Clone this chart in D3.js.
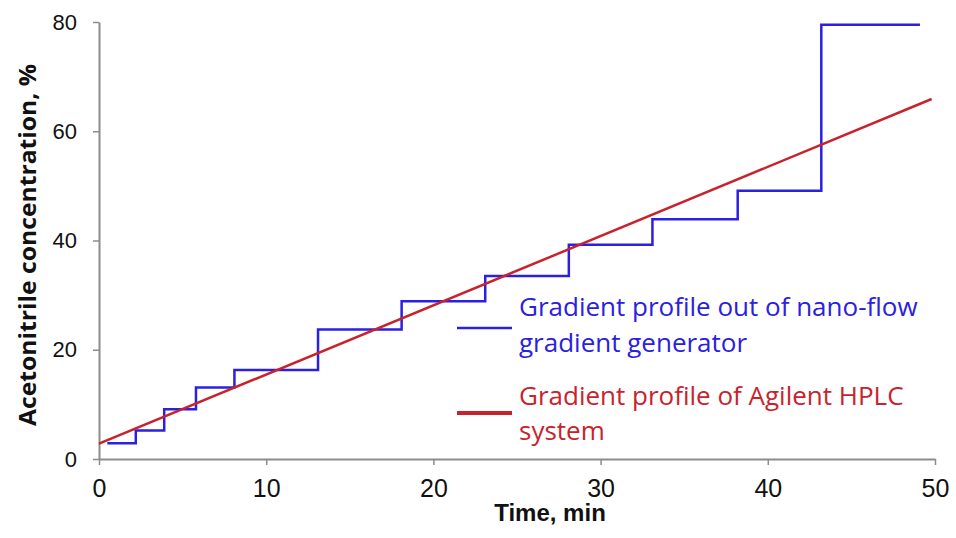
<!DOCTYPE html>
<html>
<head>
<meta charset="utf-8">
<script src="https://cdn.jsdelivr.net/npm/d3@7"></script>
<style>
  body { margin: 0; background: #fff; }
  svg { display: block; }
</style>
</head>
<body>
<div id="chart"></div>
<script>
// step profile from the nano-flow generator (time, min -> % acetonitrile)
const stepTimes = [0.5, 2.2, 3.9, 5.8, 8.1, 13.1, 18.1, 23.1, 28.1, 33.1, 38.2, 43.2, 49.1];
const stepLevels = [2.9, 5.2, 9.1, 13.1, 16.3, 23.7, 28.9, 33.5, 39.2, 43.9, 49.1, 79.5, 79.5];

// linear profile from the HPLC
const hplcTimes = [0, 49.8];
const hplcLevels = [2.8, 65.9];

const xTicks = [0, 10, 20, 30, 40, 50];
const yTicks = [0, 20, 40, 60, 80];

const legendLabels = [
    ["Gradient profile out of nano-flow", "gradient generator"],
    ["Gradient profile of Agilent HPLC", "system"]
];

let width = 956;
let height = 538;
const blue = "#2b20e0";
const red = "#c8232c";
const axisColor = "#8c8c8c";
const tickFont = "'Liberation Sans', Arial, sans-serif";

let svg = d3.select("#chart")
    .append("svg")
    .attr("width", width)
    .attr("height", height);

const x = d3.scaleLinear().domain([0, 50]).range([99, 935]);
const y = d3.scaleLinear().domain([0, 80]).range([459, 22]);

/* AXES */
let xAxis = svg.append("g")
    .attr("transform", `translate(0,${y(0)})`)
    .call(d3.axisBottom(x).tickValues(xTicks).tickSize(6).tickPadding(14).tickSizeOuter(0));
let yAxis = svg.append("g")
    .attr("transform", `translate(${x(0)},0)`)
    .call(d3.axisLeft(y).tickValues(yTicks).tickSize(6).tickPadding(16).tickSizeOuter(0));

[xAxis, yAxis].forEach(a => {
    a.select(".domain").attr("stroke", axisColor).attr("stroke-width", 2);
    a.selectAll(".tick line").attr("stroke", axisColor).attr("stroke-width", 1.5);
    a.selectAll(".tick text")
        .attr("fill", "#111")
        .style("font-family", tickFont);
});
xAxis.selectAll(".tick text").style("font-size", "25px");
yAxis.selectAll(".tick text").style("font-size", "22px");

svg.append("text")
    .attr("x", 550)
    .attr("y", 521)
    .attr("text-anchor", "middle")
    .style("font-family", tickFont)
    .style("font-weight", "bold")
    .style("font-size", "24px")
    .attr("fill", "#111")
    .text("Time, min");

// rotated title, squeezed a little to the reference length
svg.append("text")
    .attr("transform", "translate(36,245) rotate(-90)")
    .attr("text-anchor", "middle")
    .attr("textLength", 362)
    .attr("lengthAdjust", "spacingAndGlyphs")
    .style("font-family", "'Open Sans', 'Noto Sans', sans-serif")
    .style("font-weight", "bold")
    .style("font-size", "24px")
    .attr("fill", "#111")
    .text("Acetonitrile concentration, %");

/* LINES */
const stepData = stepTimes.map((t, i) => ({ t: t, v: stepLevels[i] }));
const hplcData = hplcTimes.map((t, i) => ({ t: t, v: hplcLevels[i] }));

let stepLine = d3.line()
    .x(d => x(d.t))
    .y(d => y(d.v))
    .curve(d3.curveStepAfter);
let straight = d3.line()
    .x(d => x(d.t))
    .y(d => y(d.v));

svg.append("path")
    .datum(stepData)
    .attr("d", stepLine)
    .attr("fill", "none")
    .attr("stroke", blue)
    .attr("stroke-width", 2.5);

svg.append("path")
    .datum(hplcData)
    .attr("d", straight)
    .attr("fill", "none")
    .attr("stroke", red)
    .attr("stroke-width", 2.5);

/* LEGEND */
const legendColors = [blue, red];
const legendY = [328, 413];
const textY = [[316, 352], [405, 440]];

legendLabels.forEach((lines, i) => {
    svg.append("line")
        .attr("x1", 457).attr("x2", 512)
        .attr("y1", legendY[i]).attr("y2", legendY[i])
        .attr("stroke", legendColors[i])
        .attr("stroke-width", i == 0 ? 2.5 : 4);
    lines.forEach((txt, j) => {
        svg.append("text")
            .attr("x", 519)
            .attr("y", textY[i][j])
            .attr("fill", legendColors[i])
            .style("font-family", "'Open Sans', 'Noto Sans', sans-serif")
            .style("font-size", "26px")
            .text(txt);
    });
});
</script>
</body>
</html>
